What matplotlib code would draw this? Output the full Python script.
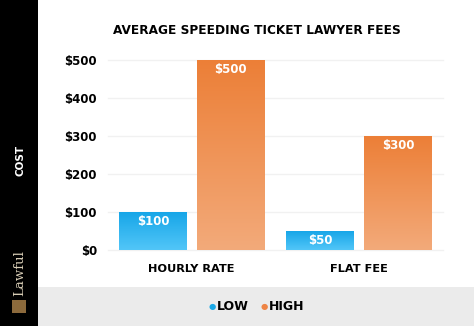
import matplotlib.pyplot as plt
import numpy as np
from matplotlib.colors import LinearSegmentedColormap
from matplotlib.patches import Rectangle

categories = ["HOURLY RATE", "FLAT FEE"]
low_fees = [100, 50]
high_fees = [500, 300]
y_ticks = [0, 100, 200, 300, 400, 500]

BLUE_TOP, BLUE_BOTTOM = "#17a6e8", "#52c6f8"
ORANGE_TOP, ORANGE_BOTTOM = "#ec7f37", "#f3aa7a"
FONT = "DejaVu Sans"


def gradient_bar(ax, bar, top_color, bottom_color):
    x, y = bar.get_x(), bar.get_y()
    w, h = bar.get_width(), bar.get_height()
    cmap = LinearSegmentedColormap.from_list("g", [bottom_color, top_color])
    grad = np.linspace(0, 1, 256).reshape(-1, 1)
    ax.imshow(grad, cmap=cmap, origin="lower", aspect="auto",
              extent=(x, x + w, y, y + h), zorder=3)
    bar.set_visible(False)


fig = plt.figure(figsize=(4.74, 3.26), dpi=100)
fig.patch.set_facecolor("white")

# left black strip and grey legend band
fig.add_artist(Rectangle((0, 0), 38 / 474, 1, transform=fig.transFigure,
                         facecolor="black", edgecolor="none", zorder=0))
fig.add_artist(Rectangle((38 / 474, 0), 1, 39 / 326, transform=fig.transFigure,
                         facecolor="#ebebeb", edgecolor="none", zorder=0))

ax = fig.add_axes([108 / 474, 76 / 326, 335 / 474, 190 / 326])
x = np.arange(len(categories))
offset, width = 0.232, 0.405

low_bars = ax.bar(x - offset, low_fees, width)
high_bars = ax.bar(x + offset, high_fees, width)

for bars, vals, top, bottom in [(low_bars, low_fees, BLUE_TOP, BLUE_BOTTOM),
                                (high_bars, high_fees, ORANGE_TOP, ORANGE_BOTTOM)]:
    for bar, val in zip(bars, vals):
        gradient_bar(ax, bar, top, bottom)
        ax.text(bar.get_x() + bar.get_width() / 2, val - 24, f"${val}",
                ha="center", va="center", color="white", fontsize=8.5,
                fontweight="bold", family=FONT, zorder=4)

ax.set_xlim(-0.5, 1.5)
ax.set_ylim(0, 500)
ax.set_yticks(y_ticks)
ax.set_yticklabels([f"${t}" for t in y_ticks], fontsize=8.5,
                   fontweight="bold", family=FONT)
ax.set_xticks(x)
ax.set_xticklabels(categories, fontsize=8.2, fontweight="bold", family=FONT)
ax.tick_params(length=0, pad=8)
ax.tick_params(axis="x", pad=10)
for t in ax.get_yticks():
    ax.axhline(t, color="#f1f1f1", linewidth=1, zorder=1, clip_on=False)
for s in ax.spines.values():
    s.set_visible(False)

fig.text(257 / 474, 1 - 30 / 326, "AVERAGE SPEEDING TICKET LAWYER FEES",
         ha="center", va="center", fontsize=8.7, fontweight="bold", family=FONT)
fig.text(20 / 474, 1 - 160 / 326, "COST", rotation=90, ha="center",
         va="center", color="white", fontsize=7.5, fontweight="bold", family=FONT)
fig.text(20 / 474, 1 - 273 / 326, "Lawful", rotation=90, ha="center",
         va="center", color="#d8cdb6", fontsize=9.5, family="DejaVu Serif")
fig.add_artist(Rectangle((12 / 474, 1 - 313 / 326), 14 / 474, 13 / 326,
                         transform=fig.transFigure, facecolor="#8c6a3c",
                         edgecolor="none"))

# legend
legend_y = 1 - 307 / 326
fig.text(212 / 474, legend_y, "\u25cf", color="#1ba8e6", ha="center",
         va="center", fontsize=6)
fig.text(217 / 474, legend_y, "LOW", ha="left", va="center", fontsize=9,
         fontweight="bold", family=FONT)
fig.text(264 / 474, legend_y, "\u25cf", color="#ee8445", ha="center",
         va="center", fontsize=6)
fig.text(269 / 474, legend_y, "HIGH", ha="left", va="center", fontsize=9,
         fontweight="bold", family=FONT)

fig.savefig("out.png", dpi=100)
